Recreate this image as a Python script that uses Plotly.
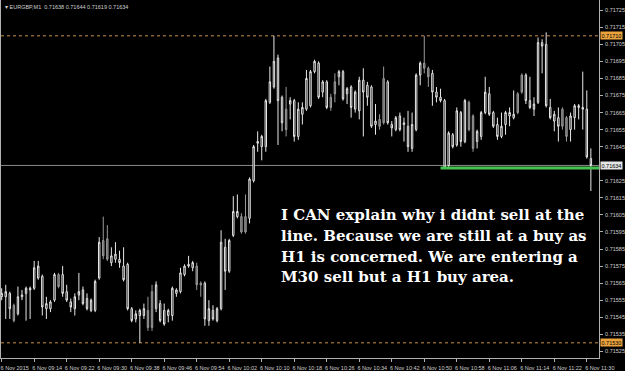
import plotly.graph_objects as go
import pandas as pd

# ---------------- data (EURGBP, M1, 6 Nov 2015) ----------------
symbol_title = "\u25be EURGBP,M1  0.71638 0.71644 0.71619 0.71634"
first_bar = "2015-11-06 09:06"

opens = [0.71557,0.71557,0.71559,0.71552,0.71547,0.71557,0.71559,0.71561,0.71562,0.71568,
         0.71569,0.71550,0.71550,0.71555,0.71570,0.71570,0.71560,0.71554,0.71550,0.71558,
         0.71561,0.71556,0.71549,0.71549,0.71568,0.71590,0.71591,0.71577,0.71579,0.71579,
         0.71575,0.71576,0.71550,0.71544,0.71546,0.71546,0.71549,0.71560,0.71550,0.71553,
         0.71549,0.71546,0.71546,0.71559,0.71560,0.71570,0.71575,0.71574,0.71575,0.71565,
         0.71565,0.71543,0.71549,0.71543,0.71550,0.71586,0.71572,0.71593,0.71604,0.71604,
         0.71604,0.71603,0.71625,0.71647,0.71645,0.71645,0.71671,0.71680,0.71697,0.71674,
         0.71667,0.71670,0.71672,0.71651,0.71664,0.71667,0.71669,0.71689,0.71694,0.71677,
         0.71683,0.71674,0.71683,0.71686,0.71689,0.71676,0.71680,0.71667,0.71666,0.71684,
         0.71681,0.71680,0.71658,0.71661,0.71685,0.71683,0.71658,0.71655,0.71663,0.71659,
         0.71657,0.71644,0.71655,0.71687,0.71694,0.71691,0.71688,0.71677,0.71674,0.71672,
         0.71634,0.71652,0.71646,0.71665,0.71648,0.71671,0.71663,0.71648,0.71651,0.71665,
         0.71676,0.71665,0.71658,0.71651,0.71658,0.71663,0.71662,0.71676,0.71687,0.71687,
         0.71672,0.71667,0.71671,0.71706,0.71705,0.71668,0.71660,0.71662,0.71667,0.71662,
         0.71655,0.71662,0.71668,0.71668,0.71667,0.71638]
highs = [0.71562,0.71564,0.71560,0.71553,0.71563,0.71561,0.71563,0.71563,0.71578,0.71578,
         0.71570,0.71557,0.71555,0.71571,0.71571,0.71575,0.71564,0.71556,0.71559,0.71571,
         0.71563,0.71559,0.71556,0.71567,0.71592,0.71604,0.71599,0.71586,0.71589,0.71584,
         0.71586,0.71577,0.71551,0.71549,0.71550,0.71553,0.71557,0.71564,0.71566,0.71555,
         0.71553,0.71550,0.71563,0.71562,0.71574,0.71576,0.71581,0.71578,0.71577,0.71566,
         0.71566,0.71555,0.71552,0.71551,0.71596,0.71591,0.71591,0.71616,0.71617,0.71606,
         0.71617,0.71627,0.71646,0.71654,0.71652,0.71673,0.71692,0.71710,0.71699,0.71675,
         0.71680,0.71674,0.71673,0.71671,0.71671,0.71690,0.71690,0.71696,0.71695,0.71684,
         0.71684,0.71676,0.71688,0.71690,0.71690,0.71680,0.71681,0.71678,0.71686,0.71691,
         0.71683,0.71681,0.71670,0.71664,0.71692,0.71684,0.71660,0.71663,0.71665,0.71662,
         0.71666,0.71665,0.71688,0.71695,0.71710,0.71692,0.71690,0.71680,0.71679,0.71673,
         0.71654,0.71653,0.71668,0.71666,0.71673,0.71672,0.71664,0.71655,0.71666,0.71686,
         0.71680,0.71666,0.71662,0.71665,0.71666,0.71668,0.71678,0.71677,0.71688,0.71688,
         0.71686,0.71674,0.71709,0.71708,0.71712,0.71673,0.71666,0.71668,0.71668,0.71663,
         0.71665,0.71670,0.71670,0.71689,0.71678,0.71644]
lows = [0.71555,0.71544,0.71544,0.71542,0.71546,0.71555,0.71543,0.71544,0.71561,0.71567,
        0.71546,0.71544,0.71548,0.71554,0.71562,0.71557,0.71554,0.71548,0.71546,0.71555,
        0.71552,0.71549,0.71548,0.71548,0.71567,0.71579,0.71578,0.71575,0.71577,0.71574,
        0.71566,0.71549,0.71542,0.71542,0.71530,0.71544,0.71537,0.71537,0.71548,0.71542,
        0.71540,0.71542,0.71543,0.71557,0.71559,0.71569,0.71574,0.71572,0.71561,0.71557,
        0.71540,0.71540,0.71543,0.71542,0.71549,0.71561,0.71571,0.71592,0.71603,0.71594,
        0.71594,0.71600,0.71624,0.71642,0.71637,0.71642,0.71670,0.71679,0.71646,0.71654,
        0.71651,0.71661,0.71648,0.71649,0.71658,0.71666,0.71668,0.71688,0.71673,0.71674,
        0.71667,0.71666,0.71671,0.71681,0.71672,0.71670,0.71662,0.71665,0.71661,0.71651,
        0.71669,0.71656,0.71652,0.71655,0.71658,0.71658,0.71651,0.71654,0.71654,0.71648,
        0.71642,0.71642,0.71654,0.71681,0.71688,0.71680,0.71669,0.71671,0.71671,0.71632,
        0.71633,0.71644,0.71645,0.71645,0.71647,0.71654,0.71642,0.71644,0.71649,0.71664,
        0.71663,0.71656,0.71649,0.71650,0.71652,0.71657,0.71661,0.71664,0.71676,0.71670,
        0.71667,0.71663,0.71670,0.71688,0.71668,0.71661,0.71654,0.71648,0.71655,0.71648,
        0.71648,0.71655,0.71661,0.71655,0.71638,0.71619]
closes = [0.71559,0.71560,0.71550,0.71543,0.71557,0.71558,0.71562,0.71562,0.71574,0.71575,
          0.71551,0.71553,0.71554,0.71570,0.71563,0.71559,0.71555,0.71551,0.71557,0.71560,
          0.71553,0.71550,0.71555,0.71566,0.71589,0.71581,0.71579,0.71581,0.71582,0.71577,
          0.71567,0.71550,0.71543,0.71547,0.71549,0.71550,0.71539,0.71539,0.71564,0.71543,
          0.71541,0.71549,0.71562,0.71561,0.71571,0.71575,0.71576,0.71577,0.71564,0.71564,
          0.71544,0.71550,0.71544,0.71550,0.71589,0.71572,0.71590,0.71607,0.71607,0.71595,
          0.71595,0.71626,0.71645,0.71648,0.71651,0.71672,0.71683,0.71695,0.71672,0.71659,
          0.71655,0.71672,0.71651,0.71667,0.71668,0.71685,0.71689,0.71695,0.71674,0.71683,
          0.71668,0.71668,0.71676,0.71689,0.71673,0.71679,0.71668,0.71677,0.71684,0.71677,
          0.71674,0.71657,0.71660,0.71657,0.71659,0.71659,0.71656,0.71662,0.71655,0.71658,
          0.71645,0.71658,0.71687,0.71694,0.71691,0.71686,0.71677,0.71674,0.71672,0.71633,
          0.71653,0.71645,0.71666,0.71648,0.71672,0.71655,0.71644,0.71654,0.71665,0.71677,
          0.71664,0.71657,0.71651,0.71657,0.71665,0.71665,0.71664,0.71665,0.71677,0.71672,
          0.71668,0.71670,0.71706,0.71704,0.71669,0.71662,0.71664,0.71657,0.71657,0.71651,
          0.71663,0.71669,0.71669,0.71667,0.71639,0.71634]
# bars drawn with a grey body
shaded_bars = [3, 14, 25, 26, 36, 37, 48, 49, 59, 60, 70, 81, 82, 93, 94,
               104, 105, 115, 116, 127, 128, 138, 139]

tick_times = ["09:06", "09:14", "09:22", "09:30", "09:38", "09:46", "09:54", "10:02",
              "10:10", "10:18", "10:26", "10:34", "10:42", "10:50", "10:58", "11:06",
              "11:14", "11:22", "11:30"]
tick_text = ["6 Nov 2015", "6 Nov 09:14", "6 Nov 09:22", "6 Nov 09:30", "6 Nov 09:38",
             "6 Nov 09:46", "6 Nov 09:54", "6 Nov 10:02", "6 Nov 10:10", "6 Nov 10:18",
             "6 Nov 10:26", "6 Nov 10:34", "6 Nov 10:42", "6 Nov 10:50", "6 Nov 10:58",
             "6 Nov 11:06", "6 Nov 11:14", "6 Nov 11:22", "6 Nov 11:30"]
price_ticks = [0.71725, 0.71715, 0.71705, 0.71695, 0.71685, 0.71675, 0.71665, 0.71655,
               0.71645, 0.71625, 0.71615, 0.71605, 0.71595, 0.71585, 0.71575, 0.71565,
               0.71555, 0.71545, 0.71535, 0.71525]

high_level = 0.71710
low_level = 0.71530
bid_price = 0.71634
support_level = 0.716325
support_from = "2015-11-06 10:54"

comment_lines = ["I CAN explain why i didnt sell at the",
                 "line. Because we are still at a buy as",
                 "H1 is concerned. We are entering a",
                 "M30 sell but a H1 buy area."]

x_range = ["2015-11-06 09:05:50", "2015-11-06 11:33:00"]
y_range = [0.715211, 0.71731]

# ---------------- figure ----------------
times = pd.date_range(first_bar, periods=len(opens), freq="min")
norm = [i for i in range(len(opens)) if i not in shaded_bars]
grey = [i for i in range(len(opens)) if i in shaded_bars]

def pick(seq, idx):
    return [seq[i] for i in idx]

fig = go.Figure()
hollow = dict(line=dict(color="#e8e8e8", width=1), fillcolor="#000000")
fig.add_trace(go.Candlestick(
    x=pick(times, norm), open=pick(opens, norm), high=pick(highs, norm),
    low=pick(lows, norm), close=pick(closes, norm),
    increasing=hollow, decreasing=hollow, whiskerwidth=0,
    hoverinfo="skip", showlegend=False))
greybody = dict(line=dict(color="#9a9a9a", width=1), fillcolor="#5c5c5c")
fig.add_trace(go.Candlestick(
    x=pick(times, grey), open=pick(opens, grey), high=pick(highs, grey),
    low=pick(lows, grey), close=pick(closes, grey),
    increasing=greybody, decreasing=greybody, whiskerwidth=0,
    hoverinfo="skip", showlegend=False))

day = "2015-11-06 "
shapes = [
    dict(type="line", xref="paper", x0=0, x1=1, yref="y", y0=high_level, y1=high_level,
         line=dict(color="#c89052", width=1, dash="dot"), layer="below"),
    dict(type="line", xref="paper", x0=0, x1=1, yref="y", y0=low_level, y1=low_level,
         line=dict(color="#c89052", width=1, dash="dot"), layer="below"),
    dict(type="line", xref="paper", x0=0, x1=1, yref="y", y0=bid_price, y1=bid_price,
         line=dict(color="#8a8a8a", width=1), layer="below"),
    dict(type="line", xref="x", x0=support_from, x1=x_range[1], yref="y",
         y0=support_level, y1=support_level, line=dict(color="#45c24f", width=3)),
]

annotations = [
    dict(text=symbol_title, xref="paper", yref="paper", x=0.004, y=0.995,
         xanchor="left", yanchor="top", showarrow=False,
         font=dict(family="Liberation Sans", size=5.5, color="#d0d0d0")),
]
for lvl, bg in [(high_level, "#eba33e"), (bid_price, "#e6e6e6"), (low_level, "#eba33e")]:
    annotations.append(dict(text=f"{lvl:.5f}", xref="paper", x=1.0, xshift=1,
                            xanchor="left", yref="y", y=lvl, yanchor="middle",
                            showarrow=False, bgcolor=bg, borderpad=0.5,
                            font=dict(family="Liberation Sans", size=5.5, color="#000000")))
line_y = [216, 237, 258, 279]
for txt, py in zip(comment_lines, line_y):
    annotations.append(dict(text=txt, xref="paper", yref="paper",
                            x=280 / 602, y=1 - py / 360, xanchor="left", yanchor="middle",
                            showarrow=False,
                            font=dict(family="DejaVu Serif", size=15, color="#ffffff",
                                      weight="bold")))

fig.update_layout(
    width=625, height=371,
    margin=dict(l=0, r=23, t=0, b=11),
    paper_bgcolor="#000000", plot_bgcolor="#000000",
    boxgap=0.5,
    hovermode=False,
    shapes=shapes, annotations=annotations,
    xaxis=dict(type="date", range=x_range, rangeslider=dict(visible=False),
               showgrid=False, zeroline=False, showline=True, linecolor="#b0b0b0",
               linewidth=1, ticks="outside", ticklen=3, tickcolor="#b0b0b0",
               tickvals=[day + t for t in tick_times], ticktext=tick_text,
               ticklabelshift=13, ticklabelstandoff=1,
               tickfont=dict(family="Liberation Sans", size=5.5, color="#d0d0d0")),
    yaxis=dict(side="right", range=y_range, showgrid=False, zeroline=False,
               showline=True, mirror=True, linecolor="#b0b0b0", linewidth=1,
               ticks="outside", ticklen=3, tickcolor="#b0b0b0",
               tickvals=price_ticks, tickformat=".5f", ticklabelstandoff=1,
               tickfont=dict(family="Liberation Sans", size=5.5, color="#d0d0d0")),
)

fig.write_html("out.html")
